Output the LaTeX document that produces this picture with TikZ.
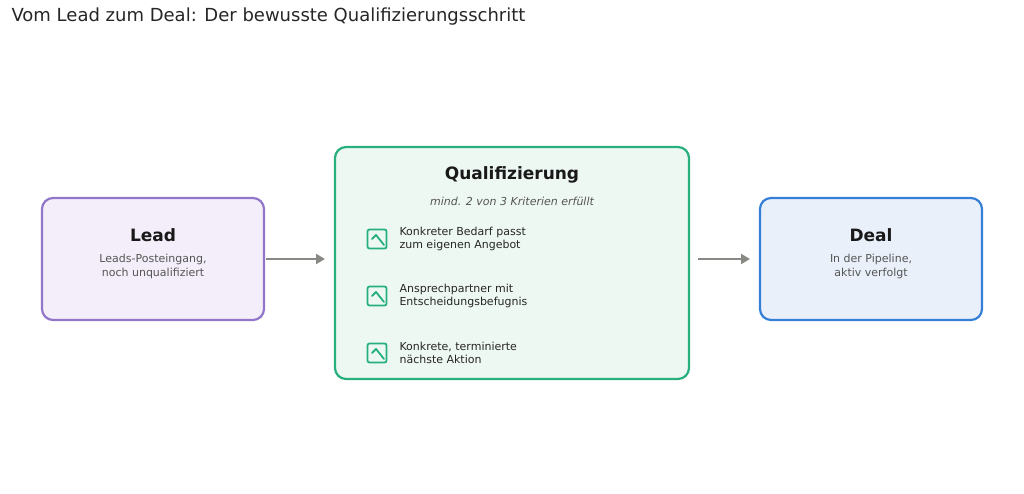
\documentclass[tikz,border=0pt]{standalone}
\usepackage{fontspec}
\setmainfont{DejaVu Sans}
\usetikzlibrary{arrows.meta}
\definecolor{leadline}{HTML}{9176C9}
\definecolor{leadfill}{HTML}{F3EEF9}
\definecolor{qualline}{HTML}{27B07E}
\definecolor{qualfill}{HTML}{EEF8F3}
\definecolor{dealline}{HTML}{3580D6}
\definecolor{dealfill}{HTML}{E9F0FA}
\definecolor{arrowgray}{HTML}{888884}
\definecolor{subgray}{HTML}{555555}
\tikzset{
  box/.style={draw, line width=2.2pt, rounded corners=11pt},
  head/.style={font=\fontsize{17}{20}\selectfont\bfseries, text=black!90},
  sub/.style={font=\fontsize{11}{14}\selectfont, text=subgray, align=center},
  item/.style={font=\fontsize{11}{13}\selectfont, text=black!85, align=left, anchor=west},
  chk/.style={draw=qualline, line width=1.8pt, rounded corners=2pt, minimum size=19pt, inner sep=0pt},
  flow/.style={draw=arrowgray, line width=2.5pt, -{Triangle[length=9pt,width=10pt]}}
}
\begin{document}
\begin{tikzpicture}[x=1pt, y=-1pt]
    \useasboundingbox (0,0) rectangle (1024,494);
    \node[anchor=west, font=\fontsize{18}{20}\selectfont, text=black!85] (title) at (8,17) {Vom Lead zum Deal: Der bewusste Qualifizierungsschritt};
    % lead
    \draw[box, draw=leadline, fill=leadfill] (42,198) rectangle (264,320);
    \coordinate (leadE) at (266,259);
    \node[head] (leadH) at (153,235) {Lead};
    \node[sub] (leadS) at (153,266) {Leads-Posteingang,\\noch unqualifiziert};
    % qualification
    \draw[box, draw=qualline, fill=qualfill] (335,147) rectangle (689,379);
    \coordinate (qualW) at (325,259);
    \coordinate (qualE) at (698,259);
    \node[head] (qualH) at (512,175) {Qualifizierung};
    \node[sub, font=\fontsize{11}{13}\selectfont\itshape] (qualS) at (512,201) {mind. 2 von 3 Kriterien erfüllt};
    \foreach \y/\t [count=\i] in {239/{Konkreter Bedarf passt\\zum eigenen Angebot},
                                 296/{Ansprechpartner mit\\Entscheidungsbefugnis},
                                 353/{Konkrete, terminierte\\nächste Aktion}} {
        \node[chk] (box\i) at (377,\y) {};
        \draw[qualline, line width=1.8pt, line cap=round, line join=round]
            ([xshift=-5pt,yshift=0pt]box\i.center) -- ([xshift=-1pt,yshift=4pt]box\i.center) -- ([xshift=7pt,yshift=-6pt]box\i.center);
        \node[item] (crit\i) at (396,\y) {\t};
    }
    % deal
    \draw[box, draw=dealline, fill=dealfill] (760,198) rectangle (982,320);
    \coordinate (dealW) at (750,259);
    \node[head] (dealH) at (871,235) {Deal};
    \node[sub] (dealS) at (871,266) {In der Pipeline,\\aktiv verfolgt};
    % arrows
    \draw[flow] (leadE) -- (qualW);
    \draw[flow] (qualE) -- (dealW);
\end{tikzpicture}
\end{document}
